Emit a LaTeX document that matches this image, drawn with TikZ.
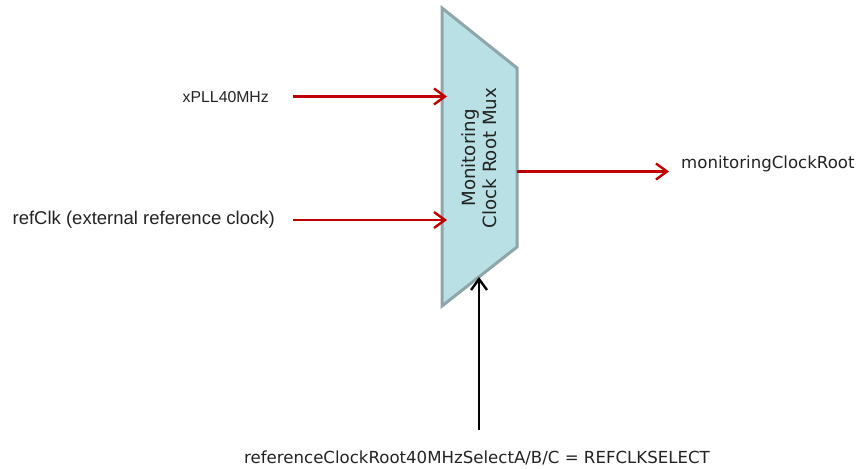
\documentclass[tikz,border=0pt]{standalone}
\usepackage{fontspec}
\setmainfont{Liberation Sans}
\newfontfamily\verd{DejaVu Sans}
\usetikzlibrary{arrows.meta}
\definecolor{sigred}{HTML}{C00000}
\definecolor{muxfill}{HTML}{B9E0E4}
\definecolor{muxedge}{HTML}{8EA6A9}
\definecolor{ink}{HTML}{222222}
\begin{document}
\begin{tikzpicture}[x=1pt,y=-1pt,
  sig/.style={line width=2.4pt,-{Straight Barb[length=11pt,width=16pt,line width=2.4pt]}},
  redsig/.style={sig,draw=sigred},
  selsig/.style={sig,draw=black},
  lbl/.style={inner sep=0pt,text=ink},
  vlbl/.style={inner sep=0pt,text=ink,font=\verd\fontsize{16.6}{19}\selectfont}]
\useasboundingbox (0,0) rectangle (858,468);
% multiplexer body
\coordinate (tl) at (442,8);
\coordinate (tr) at (517,68);
\coordinate (br) at (517,247);
\coordinate (bl) at (442,306);
\draw[fill=muxfill,draw=muxedge,line width=3pt,line join=miter]
  (tl) -- (tr) -- (br) -- (bl) -- cycle;
\node[align=center,rotate=90,inner sep=0pt,text=ink,font=\verd\fontsize{18.2}{21}\selectfont] (mux) at (479.5,158) {Monitoring\\Clock Root Mux};
% port coordinates
\coordinate (in1) at (447,96.5);
\coordinate (in2) at (447,220);
\coordinate (outp) at (517,171.5);
\coordinate (sel) at (479,277);
% labels
\node[lbl,anchor=east,font=\fontsize{15.8}{19}\selectfont] (xpll) at (269,97) {xPLL40MHz};
\node[lbl,anchor=east,font=\fontsize{18.5}{21}\selectfont] (refclk) at (275,220) {refClk (external reference clock)};
\node[vlbl,anchor=west] (mon) at (681,164) {monitoringClockRoot};
\node[vlbl,anchor=center] (selname) at (477,458) {referenceClockRoot40MHzSelectA/B/C = REFCLKSELECT};
% connectors
\coordinate (s1) at (293,96.5);
\coordinate (s2) at (293,220);
\coordinate (o1) at (669,171.5);
\coordinate (c1) at (479,430);
\draw[redsig] (s1) -- (in1);
\draw[redsig] (s2) -- (in2);
\draw[redsig] (outp) -- (o1);
\draw[selsig] (c1) -- (sel);
\end{tikzpicture}
\end{document}
